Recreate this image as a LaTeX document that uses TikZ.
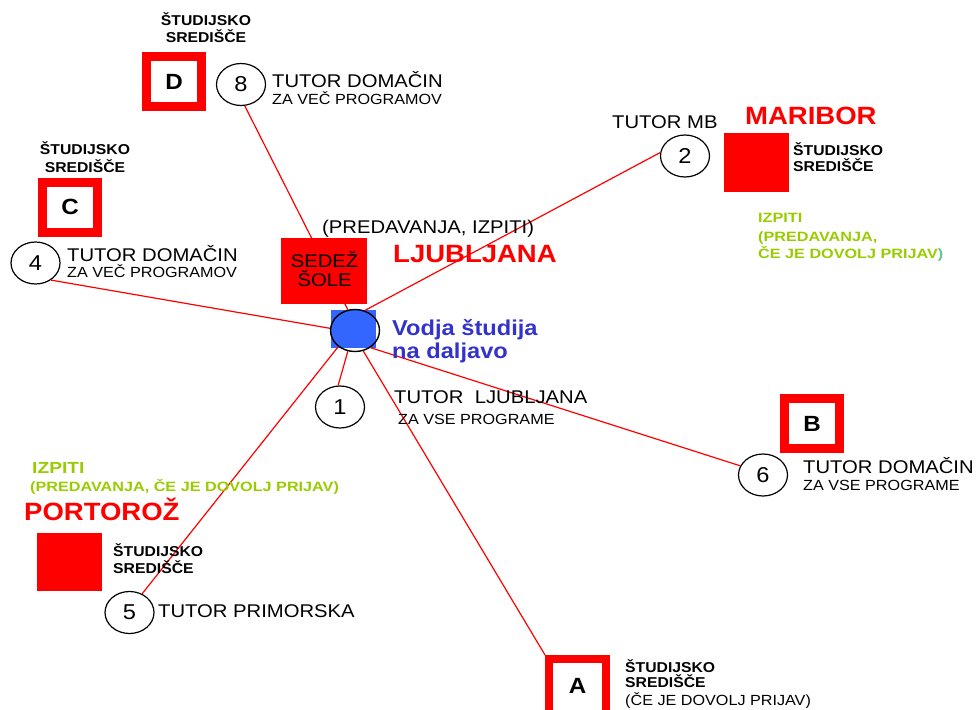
\documentclass[tikz,border=0pt]{standalone}
\usepackage{fontspec}
\setmainfont{Liberation Sans}[FakeStretch=1.1]
\newfontfamily\widefont{Liberation Sans}[FakeStretch=1.2]
\usetikzlibrary{shapes.geometric}

\definecolor{pptred}{RGB}{255,0,0}
\definecolor{vodjablue}{RGB}{51,51,204}
\definecolor{squareblue}{RGB}{51,102,255}
\definecolor{izgreen}{RGB}{153,204,0}
\definecolor{parteal}{RGB}{95,196,154}

\newcommand{\setfs}[1]{\fontsize{#1}{#1}\selectfont}

\tikzset{
  txt/.style={inner sep=0pt, anchor=base west, font=\setfs{18.4}},
  subtxt/.style={inner sep=0pt, anchor=base west, font=\setfs{14.7}},
  centretxt/.style={inner sep=0pt, anchor=base, font=\bfseries\setfs{14.3}},
  centreleft/.style={inner sep=0pt, anchor=base west, font=\bfseries\setfs{14.3}},
  cityname/.style={inner sep=0pt, anchor=base west, text=pptred, font=\bfseries\setfs{25}},
  greentxt/.style={inner sep=0pt, anchor=base west, text=izgreen, font=\widefont\bfseries\setfs{13.5}},
  tutor/.style={ellipse, draw, line width=1.2pt, fill=white, minimum width=49pt,
    minimum height=42pt, inner sep=0pt, font=\setfs{21.5}},
  hollowbox/.style={draw=pptred, fill=white, line width=9pt, minimum width=55pt,
    minimum height=50pt, inner sep=0pt, font=\bfseries\setfs{22}},
  solidbox/.style={fill=pptred, minimum width=65pt, minimum height=59pt, inner sep=0pt},
  link/.style={draw=pptred, line width=1.2pt}
}

\begin{document}
\begin{tikzpicture}[x=1pt, y=-1pt]
\useasboundingbox[fill=white] (0,0) rectangle (976,709);
\clip (0,0) rectangle (976,709);

% central coordinator: blue square with an outlined ellipse
\node[fill=squareblue, minimum width=45pt, minimum height=38pt, inner sep=0pt] (sq) at (353.5,329) {};
\node[ellipse, draw, line width=1.4pt, minimum width=49pt, minimum height=42pt, inner sep=0pt] (ctr) at (355,330.5) {};

% tutors
\node[tutor] (c8) at (241,84.5) {8};
\node[tutor] (c4) at (35.5,263) {4};
\node[tutor] (c2) at (685,156) {2};
\node[tutor] (c1) at (340,407) {1};
\node[tutor] (c5) at (129.5,612.5) {5};
\node[tutor] (c6) at (763,475) {6};

% study centres
\node[hollowbox] (bD) at (174,81.5) {D};
\node[hollowbox] (bC) at (70,207) {C};
\node[hollowbox] (bB) at (812,423.5) {B};
\node[hollowbox, line width=8pt, minimum width=57pt, minimum height=55pt] (bA) at (577.5,686.5) {};
\node[inner sep=0pt, font=\bfseries\setfs{22}] (bAl) at (577.5,686) {A};
\node[solidbox] (mb) at (756.5,162.5) {};
\node[solidbox, minimum height=58pt] (pz) at (69.5,562) {};

% connectors from the coordinator
\draw[link] (ctr.109) -- (c8.-80);
\draw[link] (ctr.64) -- (c2.172);
\draw[link] (ctr.175) -- (c4.-48);
\draw[link] (ctr.251) -- (c1.95);
\draw[link] (ctr.224) -- (c5.56);
\draw[link] (ctr.292) -- (bA.north west);
\draw[link] (ctr.312) -- (c6.158);

% school seat (covers the link to tutor 8)
\node[fill=pptred, minimum width=86pt, minimum height=66pt, inner sep=0pt] (sedez) at (324,271) {};
\node[inner sep=0pt, anchor=base, font=\setfs{18.4}] (sedez1) at (324.5,267) {SEDEŽ};
\node[inner sep=0pt, anchor=base, font=\setfs{18.4}] (sedez2) at (324.5,286) {ŠOLE};

% Ljubljana
\node[txt] (pi) at (322,233) {(PREDAVANJA, IZPITI)};
\node[cityname] (lj) at (393,262.5) {LJUBLJANA};
\node[inner sep=0pt, anchor=base west, text=vodjablue, font=\bfseries\setfs{21.5}] (vod1) at (392,335) {Vodja študija};
\node[inner sep=0pt, anchor=base west, text=vodjablue, font=\bfseries\setfs{21.5}] (vod2) at (392,358) {na daljavo};
\node[txt] (t1a) at (394,403) {TUTOR\ \ LJUBLJANA};
\node[subtxt] (t1b) at (398,424) {ZA VSE PROGRAME};

% centre D and tutor 8
\node[centretxt] (sD1) at (206,26) {ŠTUDIJSKO};
\node[centretxt] (sD2) at (206,43) {SREDIŠČE};
\node[txt] (t8a) at (272,87.5) {TUTOR DOMAČIN};
\node[subtxt] (t8b) at (272,104) {ZA VEČ PROGRAMOV};

% centre C and tutor 4
\node[centretxt] (sC1) at (85,154) {ŠTUDIJSKO};
\node[centretxt] (sC2) at (85,172) {SREDIŠČE};
\node[txt] (t4a) at (67,261) {TUTOR DOMAČIN};
\node[subtxt] (t4b) at (67,277) {ZA VEČ PROGRAMOV};

% Maribor
\node[txt] (t2) at (612,128) {TUTOR MB};
\node[cityname] (mbn) at (745,124) {MARIBOR};
\node[centreleft] (sM1) at (793,155) {ŠTUDIJSKO};
\node[centreleft] (sM2) at (793,171) {SREDIŠČE};
\node[greentxt] (gM1) at (758,222) {IZPITI};
\node[greentxt] (gM2) at (758,241) {(PREDAVANJA,};
\node[greentxt] (gM3) at (758,258) {ČE JE DOVOLJ PRIJAV\textcolor{parteal}{)}};

% centre B and tutor 6
\node[txt] (t6a) at (803,473) {TUTOR DOMAČIN};
\node[subtxt] (t6b) at (803,490) {ZA VSE PROGRAME};

% Portoroz
\node[greentxt, font=\widefont\bfseries\setfs{16}] (gP1) at (32,473) {IZPITI};
\node[greentxt] (gP2) at (30,491) {(PREDAVANJA, ČE JE DOVOLJ PRIJAV)};
\node[cityname] (pzn) at (24,520) {PORTOROŽ};
\node[centreleft] (sP1) at (113,556) {ŠTUDIJSKO};
\node[centreleft] (sP2) at (113,573) {SREDIŠČE};
\node[txt] (t5) at (158,617) {TUTOR PRIMORSKA};

% centre A
\node[centreleft] (sA1) at (625,672) {ŠTUDIJSKO};
\node[centreleft] (sA2) at (625,687) {SREDIŠČE};
\node[subtxt] (sA3) at (625,705) {(ČE JE DOVOLJ PRIJAV)};
\end{tikzpicture}
\end{document}
